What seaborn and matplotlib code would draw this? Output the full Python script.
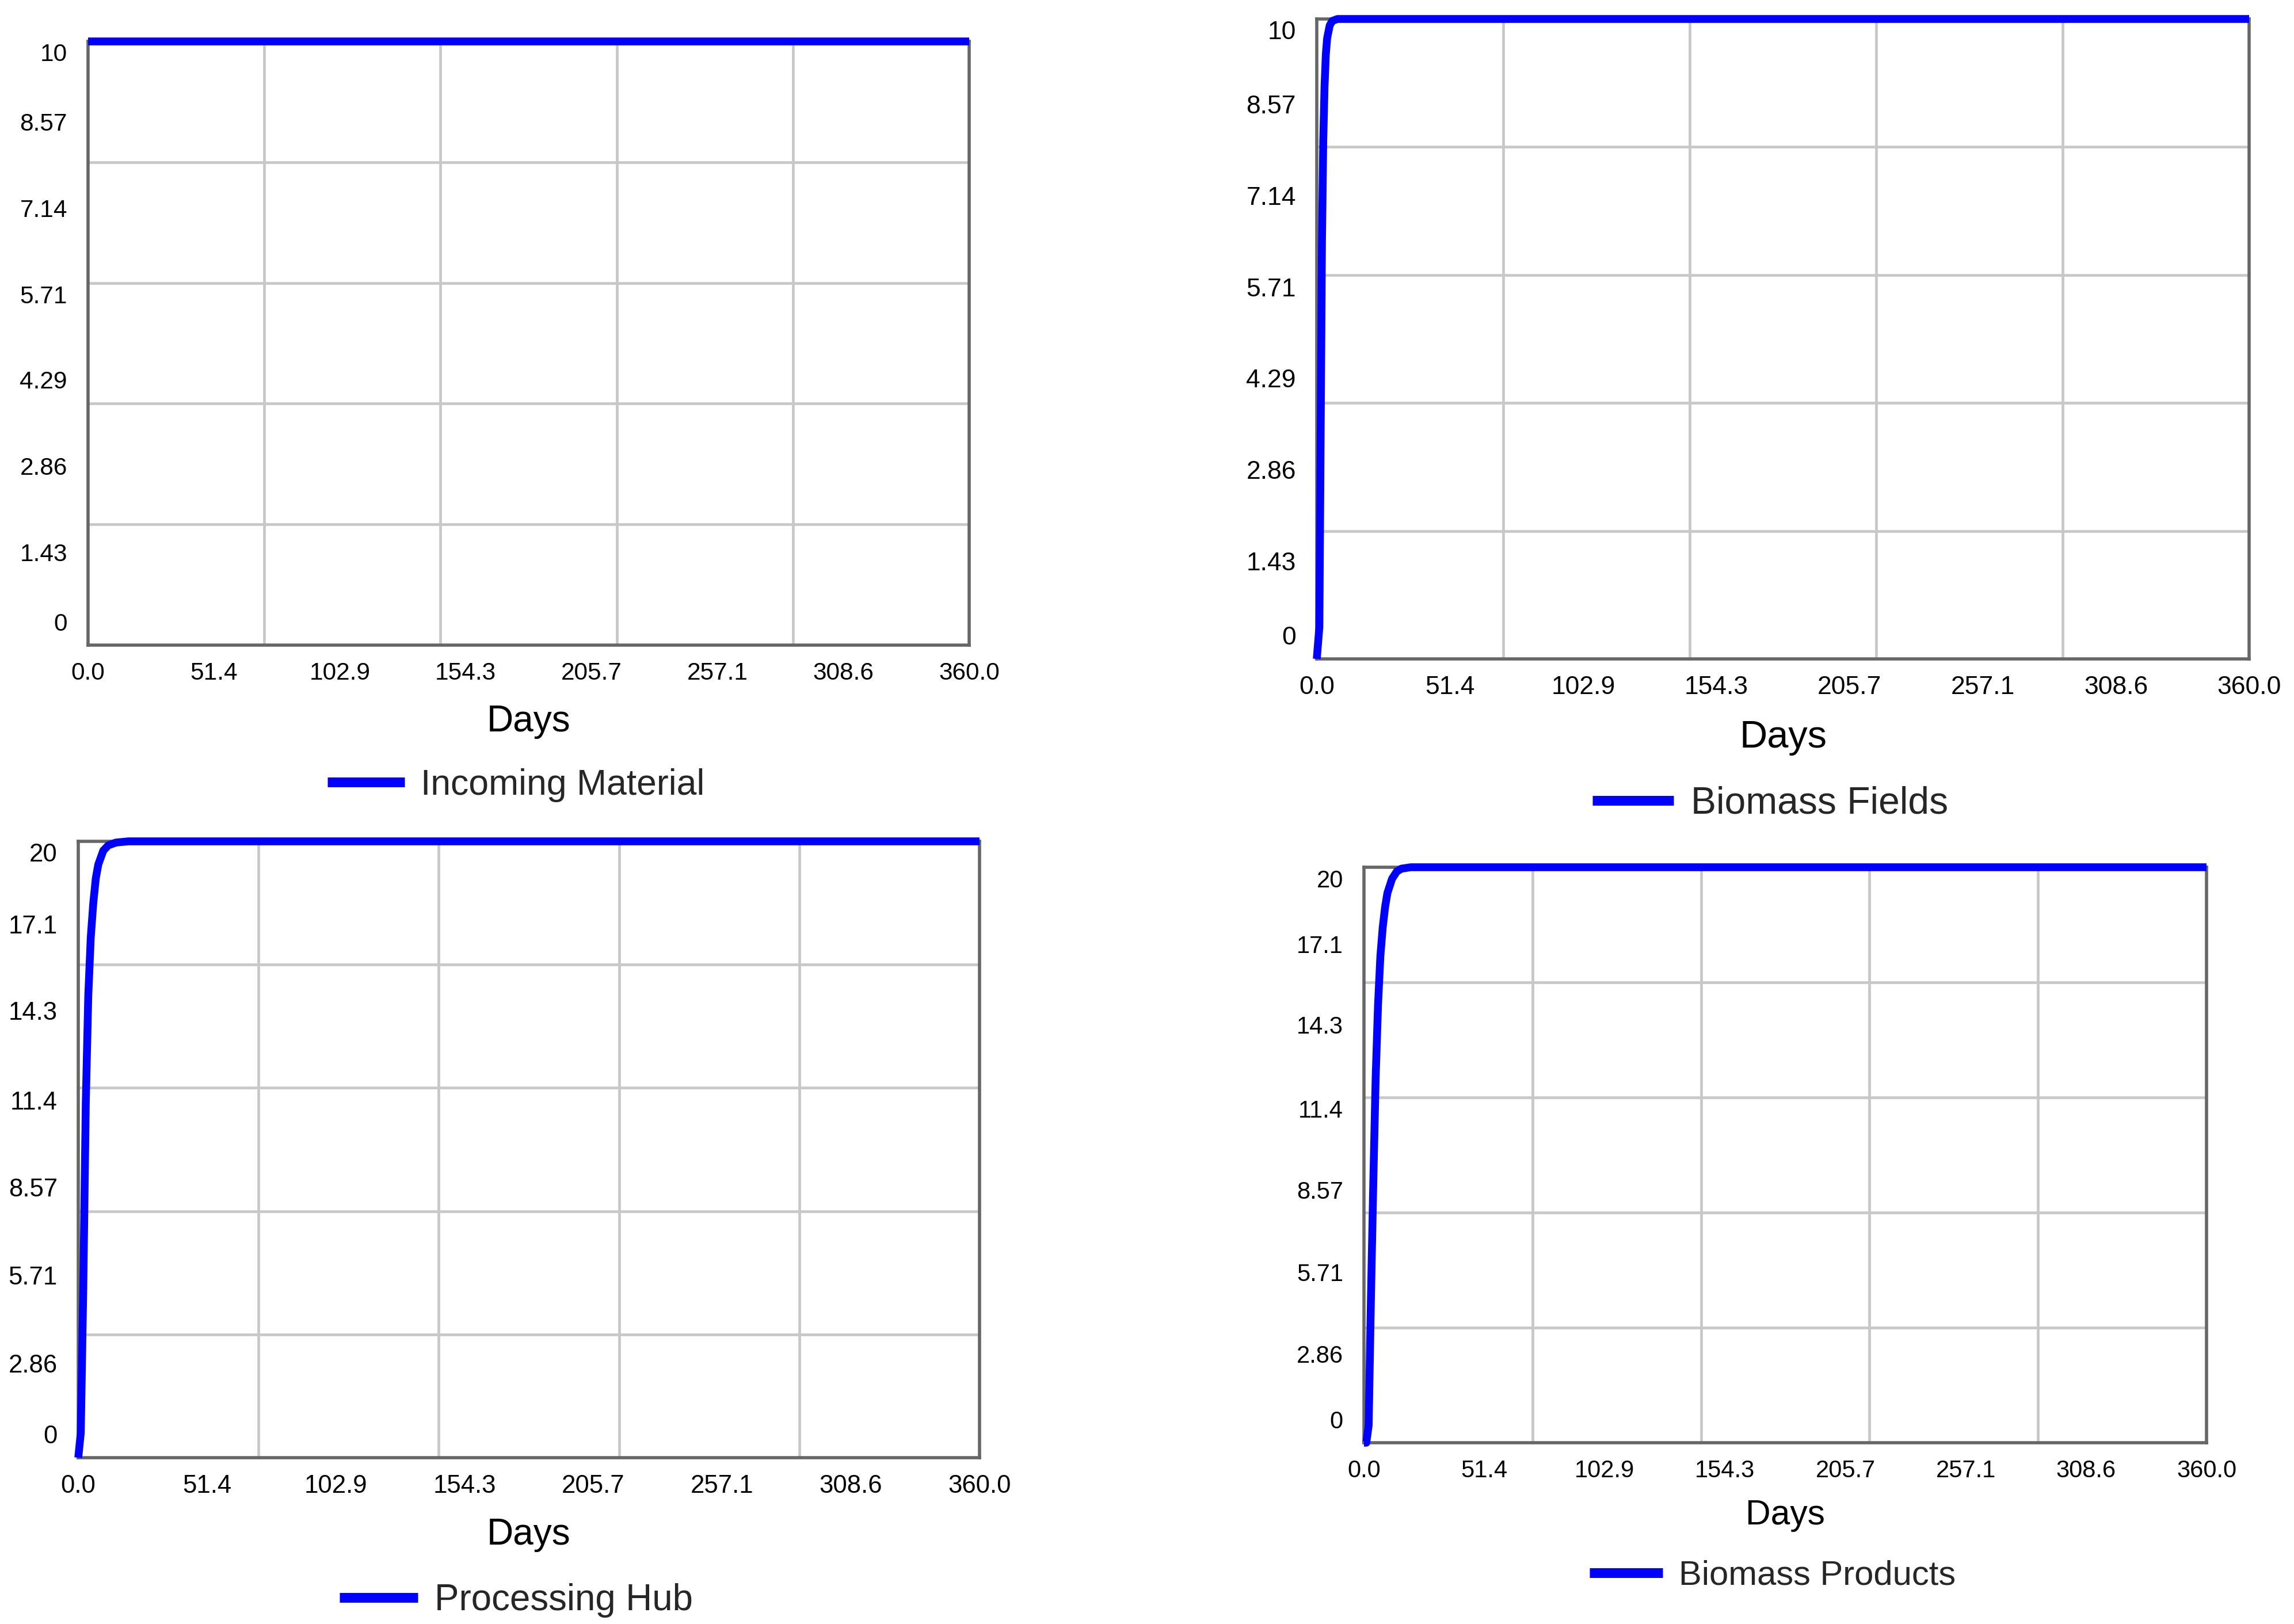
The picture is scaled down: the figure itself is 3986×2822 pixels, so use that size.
import matplotlib
matplotlib.use("Agg")
import matplotlib.pyplot as plt
import seaborn as sns
from matplotlib.transforms import ScaledTranslation

# Données (simulation, jours 0 à 360)
days_incoming = [0, 360]
incoming_material = [10, 10]

days_fields = [0, 1, 1.5, 2, 2.5, 3, 3.5, 4, 5, 6, 8, 360]
biomass_fields = [0, 0.5, 3.5, 6.5, 8.1, 8.95, 9.45, 9.7, 9.9, 9.97, 10, 10]

days_hub = [0, 1, 2, 3, 4, 5, 6, 7, 8, 10, 12, 15, 20, 360]
processing_hub = [0, 0.8, 5.5, 11.5, 15.0, 16.9, 18.0, 18.8, 19.25, 19.7, 19.87, 19.96, 20, 20]

days_products = [0, 1, 2, 3, 4, 5, 6, 7, 8, 9, 10, 12, 14, 16, 20, 360]
biomass_products = [0, 0, 0.6, 5.1, 9.1, 12.7, 15.2, 16.9, 17.9, 18.6, 19.1, 19.6, 19.85, 19.95, 20, 20]

x_tick_labels = ["0.0", "51.4", "102.9", "154.3", "205.7", "257.1", "308.6", "360.0"]
y_labels_10 = ["0", "1.43", "2.86", "4.29", "5.71", "7.14", "8.57", "10"]
y_labels_20 = ["0", "2.86", "5.71", "8.57", "11.4", "14.3", "17.1", "20"]

W, H, DPI = 3986, 2822, 100
BLUE = "#0000ff"

sns.set_theme(style="white")
plt.rcParams["font.family"] = ["Liberation Sans", "DejaVu Sans"]

fig = plt.figure(figsize=(W / DPI, H / DPI), dpi=DPI, facecolor="white")

# (jours, valeurs, nom, ymax, labels y, cadre px (g, h, d, b), décalage "Days",
#  centre légende px, tailles (ticks, Days, légende))
panels = [
    (days_incoming, incoming_material, "Incoming Material", 10, y_labels_10,
     (153, 72, 1684, 1121), 133, (897, 1364), (30.5, 46, 45)),
    (days_fields, biomass_fields, "Biomass Fields", 10, y_labels_10,
     (2288, 33, 3908, 1145), 137, (3076, 1397), (32, 48, 47.5)),
    (days_hub, processing_hub, "Processing Hub", 20, y_labels_20,
     (136, 1462, 1702, 2533), 134, (897, 2781), (31.5, 46, 45.8)),
    (days_products, biomass_products, "Biomass Products", 20, y_labels_20,
     (2370, 1507, 3834, 2507), 126, (3080, 2738), (30, 43.6, 43)),
]

axes = []
for days, values, name, ymax, ylabels, box, days_off, leg_c, sizes in panels:
    l, t, r, b = box
    tick_fs, days_fs, leg_fs = sizes
    ax = fig.add_axes([l / W, 1 - b / H, (r - l) / W, (b - t) / H])
    sns.lineplot(x=days, y=values, ax=ax, color=BLUE, linewidth=9.8, estimator=None,
                 label=name, clip_on=False, zorder=4, solid_capstyle="butt")

    ax.set_xlim(0, 360)
    ax.set_ylim(0, ymax)
    ax.set_xticks([float(s) for s in x_tick_labels])
    ax.set_xticklabels(x_tick_labels)
    ax.set_yticks([float(s) for s in ylabels])
    ax.set_yticklabels(ylabels)
    # la grille suit 5 divisions, indépendamment des étiquettes
    ax.set_xticks([72, 144, 216, 288], minor=True)
    ax.set_yticks([ymax * k / 5 for k in range(1, 5)], minor=True)
    ax.grid(which="minor", visible=True, color="#c8c8c8", linewidth=3.4)
    ax.grid(which="major", visible=False)
    ax.tick_params(which="both", length=0)
    ax.tick_params(axis="x", pad=21, labelsize=tick_fs, labelcolor="black")
    ax.tick_params(axis="y", pad=26, labelsize=tick_fs, labelcolor="black")
    for s in ax.spines.values():
        s.set_visible(True)
        s.set_color("#666666")
        s.set_linewidth(4)

    ax.set_xlabel("Days", fontsize=days_fs, color="black", va="center")
    ax.xaxis.set_label_coords(0.5, -days_off / (b - t))
    ax.set_ylabel("")

    leg = ax.legend(loc="center", bbox_to_anchor=(leg_c[0] / W, 1 - leg_c[1] / H),
                    bbox_transform=fig.transFigure, frameon=False, fontsize=leg_fs,
                    handlelength=2.13, handletextpad=0.46, borderpad=0)
    for h in leg.legend_handles:
        h.set_linewidth(12.2)
    axes.append(ax)

# étiquettes y légèrement au-dessus de leur valeur, extrêmes ramenées dans le cadre
for ax in axes:
    labels = ax.get_yticklabels()
    for i, lab in enumerate(labels):
        if i == 0:
            dy = 41
        elif i == len(labels) - 1:
            dy = -19
        else:
            dy = 11
        lab.set_transform(lab.get_transform()
                          + ScaledTranslation(0, dy / DPI, fig.dpi_scale_trans))

fig.savefig("out.png", dpi=DPI, facecolor="white")
